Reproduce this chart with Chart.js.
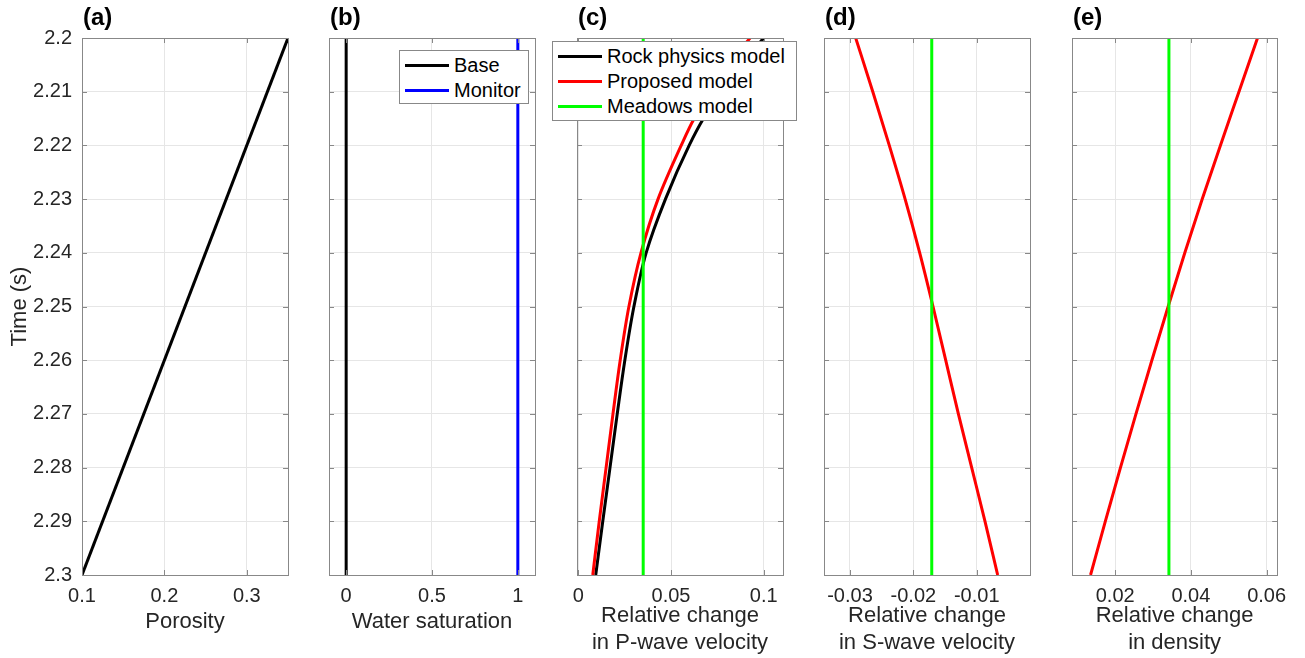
<!DOCTYPE html>
<html>
<head>
<meta charset="utf-8">
<title>Time-lapse property changes</title>
<script src="https://cdn.jsdelivr.net/npm/chart.js@4/dist/chart.umd.min.js"></script>
<style>
  html, body { margin: 0; padding: 0; background: #fff; }
  #figure {
    position: relative; width: 1305px; height: 658px; overflow: hidden;
    font-family: "Liberation Sans", Arial, Helvetica, sans-serif;
  }
  #figure canvas { position: absolute; top: 0; }
  .legend {
    position: absolute; box-sizing: border-box; background: #fff;
    border: 1px solid #888; padding: 1.5px 0 0 5px;
    font-size: 20px; color: #000;
  }
  .legend .row { display: flex; align-items: center; height: 25px; line-height: 25px; white-space: nowrap; }
  .legend .swatch { width: 44px; height: 3px; margin-right: 5px; flex: none; }
</style>
</head>
<body>
<div id="figure">
  <canvas id="panelA" width="306" height="658" style="left:0px"></canvas>
  <canvas id="panelB" width="306" height="658" style="left:247px"></canvas>
  <canvas id="panelC" width="306" height="658" style="left:495px"></canvas>
  <canvas id="panelD" width="306" height="658" style="left:742px"></canvas>
  <canvas id="panelE" width="306" height="658" style="left:990px"></canvas>
  <div class="legend" id="legendB" style="left:399px; top:50px; width:130px; height:54px"></div>
  <div class="legend" id="legendC" style="left:552px; top:41px; width:245px; height:80px"></div>
</div>
<script>
// ---- time axis (s), increasing downwards ----
const timeRange = [2.2, 2.3];
const timeTicks = [2.2, 2.21, 2.22, 2.23, 2.24, 2.25, 2.26, 2.27, 2.28, 2.29, 2.3];
const endTimes = [2.2, 2.3];

// (a) porosity
const porosity = [0.35, 0.1];

// (b) water saturation
const baseSat = [0, 0];
const monitorSat = [1, 1];

// (c) relative change in P-wave velocity
const vpTimes = [2.2, 2.205, 2.21, 2.215, 2.22, 2.23, 2.24, 2.25, 2.26, 2.27, 2.28, 2.29, 2.3];
const vpRockPhysics = [0.1000, 0.0875, 0.0770, 0.0675, 0.0598, 0.0470, 0.0366, 0.0300, 0.0251, 0.0210, 0.0171, 0.0132, 0.0094];
const vpProposed = [0.0926, 0.0810, 0.0715, 0.0625, 0.0555, 0.0430, 0.0338, 0.0273, 0.0226, 0.0187, 0.0150, 0.0113, 0.0078];
const vpMeadows = [0.035, 0.035];

// (d) relative change in S-wave velocity
const vsProposed = [-0.0291, -0.0264, -0.0238, -0.0213, -0.0190, -0.0169, -0.0149, -0.0129, -0.0108, -0.0087, -0.0067];
const vsMeadows = [-0.0171, -0.0171];

// (e) relative change in density
const rhoProposed = [0.0576, 0.0527, 0.0478, 0.0430, 0.0384, 0.0340, 0.0297, 0.0255, 0.0214, 0.0174, 0.0135];
const rhoMeadows = [0.0342, 0.0342];

// x limits and tick values per panel
const xRangeA = [0.1, 0.35],      xTicksA = [0.1, 0.2, 0.3];
const xRangeB = [-0.1, 1.1],      xTicksB = [0, 0.5, 1];
const xRangeC = [-0.0007, 0.1104], xTicksC = [0, 0.05, 0.1];
const xRangeD = [-0.0341, -0.0016], xTicksD = [-0.03, -0.02, -0.01];
const xRangeE = [0.0086, 0.0628], xTicksE = [0.02, 0.04, 0.06];

const FONT = '"Liberation Sans", Arial, Helvetica, sans-serif';
const TEXT = '#262626';
const GRID = '#e6e6e6';
const BOX = '#888888';

const pts = (xs, ts) => ts.map((t, i) => ({ x: xs[i], y: t }));
const fmt = (v) => String(+v.toFixed(4));

// box round the plot area with inward ticks on all four sides
const axesBox = {
    id: 'axesBox',
    afterDraw(chart) {
        const { ctx, chartArea: a, scales } = chart;
        const len = 5;
        ctx.save();
        ctx.strokeStyle = BOX;
        ctx.lineWidth = 1;
        ctx.beginPath();
        scales.x.ticks.forEach(t => {
            const px = Math.round(scales.x.getPixelForValue(t.value)) + 0.5;
            ctx.moveTo(px, a.top); ctx.lineTo(px, a.top + len);
            ctx.moveTo(px, a.bottom); ctx.lineTo(px, a.bottom - len);
        });
        scales.y.ticks.forEach(t => {
            const py = Math.round(scales.y.getPixelForValue(t.value)) + 0.5;
            ctx.moveTo(a.left, py); ctx.lineTo(a.left + len, py);
            ctx.moveTo(a.right, py); ctx.lineTo(a.right - len, py);
        });
        ctx.stroke();
        ctx.strokeRect(Math.round(a.left) + 0.5, Math.round(a.top) + 0.5,
            Math.round(a.right - a.left), Math.round(a.bottom - a.top));
        ctx.restore();
    }
};

// bold "(a)" style tag above the top-left corner
const panelTag = {
    id: 'panelTag',
    afterDraw(chart, args, opts) {
        const { ctx, chartArea: a } = chart;
        ctx.save();
        ctx.font = 'bold 24px ' + FONT;
        ctx.fillStyle = '#000';
        ctx.textBaseline = 'alphabetic';
        ctx.fillText(opts.text, a.left + 1, a.top - 13);
        ctx.restore();
    }
};

function makePanel(id, cfg) {
    const n = cfg.series.length;
    const datasets = cfg.series.map((s, i) => ({
        label: s.label,
        data: pts(s.x, s.t),
        borderColor: s.color,
        backgroundColor: s.color,
        borderWidth: 3,
        showLine: true,
        pointRadius: 0,
        cubicInterpolationMode: s.smooth ? 'monotone' : 'default',
        tension: 0,
        order: n - i
    }));
    const twoLine = Array.isArray(cfg.xTitle);

    return new Chart(document.getElementById(id), {
        type: 'scatter',
        data: { datasets },
        options: {
            indexAxis: 'y',
            responsive: false,
            animation: false,
            devicePixelRatio: 1,
            layout: { padding: { top: 38, right: 18, bottom: 0, left: 0 }, autoPadding: false },
            plugins: {
                legend: { display: false },
                tooltip: { enabled: false },
                panelTag: { text: cfg.tag }
            },
            scales: {
                x: {
                    type: 'linear',
                    position: 'bottom',
                    min: cfg.xRange[0],
                    max: cfg.xRange[1],
                    afterBuildTicks: s => { s.ticks = cfg.xTicks.map(v => ({ value: v })); },
                    afterFit: s => { s.height = 83; },
                    grid: { color: GRID, drawTicks: false },
                    border: { display: false },
                    ticks: { padding: 9, color: TEXT, font: { family: FONT, size: 20 }, callback: v => fmt(v), maxRotation: 0 },
                    title: {
                        display: true, text: cfg.xTitle, color: TEXT,
                        font: { family: FONT, size: 22 },
                        padding: { top: 0, bottom: twoLine ? 2 : 23 }
                    }
                },
                y: {
                    type: 'linear',
                    position: 'left',
                    reverse: true,
                    min: timeRange[0],
                    max: timeRange[1],
                    afterBuildTicks: s => { s.ticks = timeTicks.map(v => ({ value: v })); },
                    afterFit: s => { s.width = 82; },
                    grid: { color: GRID, drawTicks: false },
                    border: { display: false },
                    ticks: { display: cfg.showTime, padding: 10, color: TEXT, font: { family: FONT, size: 20 }, callback: v => fmt(v) },
                    title: {
                        display: cfg.showTime, text: 'Time (s)', color: TEXT,
                        font: { family: FONT, size: 22 },
                        padding: { top: 7, bottom: 0 }
                    }
                }
            }
        },
        plugins: [axesBox, panelTag]
    });
}

function fillLegend(elId, chart) {
    const box = document.getElementById(elId);
    chart.data.datasets.forEach(ds => {
        const row = document.createElement('div');
        row.className = 'row';
        const sw = document.createElement('span');
        sw.className = 'swatch';
        sw.style.background = ds.borderColor;
        const txt = document.createElement('span');
        txt.textContent = ds.label;
        row.appendChild(sw);
        row.appendChild(txt);
        box.appendChild(row);
    });
}

makePanel('panelA', {
    tag: '(a)', showTime: true, xRange: xRangeA, xTicks: xTicksA, xTitle: 'Porosity',
    series: [{ label: 'Porosity', x: porosity, t: endTimes, color: '#000000' }]
});

const chartB = makePanel('panelB', {
    tag: '(b)', showTime: false, xRange: xRangeB, xTicks: xTicksB, xTitle: 'Water saturation',
    series: [
        { label: 'Base', x: baseSat, t: endTimes, color: '#000000' },
        { label: 'Monitor', x: monitorSat, t: endTimes, color: '#0000ff' }
    ]
});
fillLegend('legendB', chartB);

const chartC = makePanel('panelC', {
    tag: '(c)', showTime: false, xRange: xRangeC, xTicks: xTicksC,
    xTitle: ['Relative change', 'in P-wave velocity'],
    series: [
        { label: 'Rock physics model', x: vpRockPhysics, t: vpTimes, color: '#000000', smooth: true },
        { label: 'Proposed model', x: vpProposed, t: vpTimes, color: '#ff0000', smooth: true },
        { label: 'Meadows model', x: vpMeadows, t: endTimes, color: '#00ff00' }
    ]
});
fillLegend('legendC', chartC);

makePanel('panelD', {
    tag: '(d)', showTime: false, xRange: xRangeD, xTicks: xTicksD,
    xTitle: ['Relative change', 'in S-wave velocity'],
    series: [
        { label: 'Proposed model', x: vsProposed, t: timeTicks, color: '#ff0000', smooth: true },
        { label: 'Meadows model', x: vsMeadows, t: endTimes, color: '#00ff00' }
    ]
});

makePanel('panelE', {
    tag: '(e)', showTime: false, xRange: xRangeE, xTicks: xTicksE,
    xTitle: ['Relative change', 'in density'],
    series: [
        { label: 'Proposed model', x: rhoProposed, t: timeTicks, color: '#ff0000', smooth: true },
        { label: 'Meadows model', x: rhoMeadows, t: endTimes, color: '#00ff00' }
    ]
});
</script>
</body>
</html>
